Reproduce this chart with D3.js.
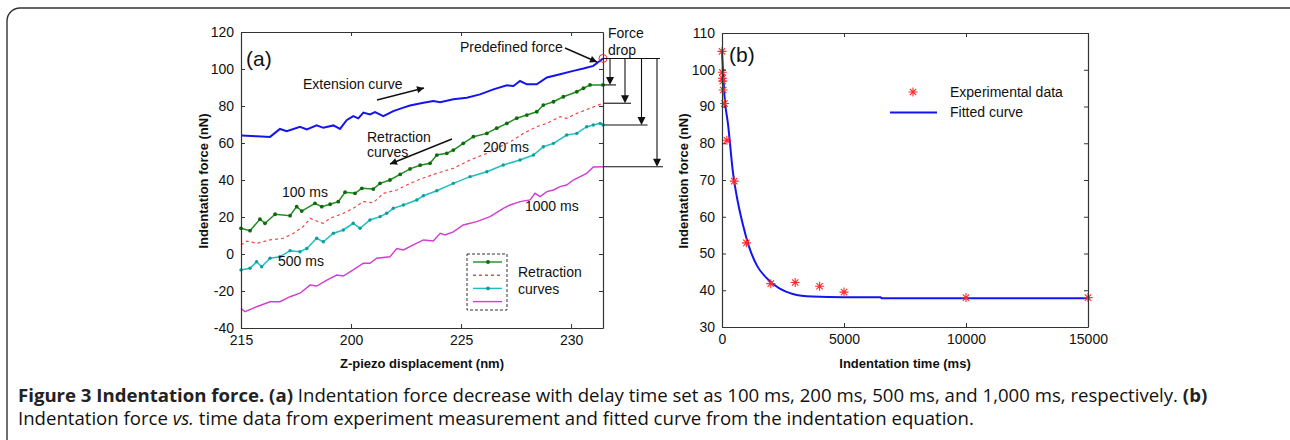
<!DOCTYPE html>
<html>
<head>
<meta charset="utf-8">
<script src="https://d3js.org/d3.v7.min.js"></script>
<style>
  body { margin: 0; background: #fff; }
  svg text { font-family: "Liberation Sans", Arial, sans-serif; fill: #111; }
</style>
</head>
<body>
<svg id="fig" width="1290" height="440"></svg>
<script>
// ---- panel (a): Z-piezo displacement (nm) vs indentation force (nN)
const extX = [215.03, 215.71, 216.32, 216.77, 217.08, 217.68, 217.99, 218.44, 218.74, 219.2, 219.5, 219.8, 220.1, 220.33, 220.56, 220.86, 221.09, 221.47, 221.92, 222.38, 222.68, 223.29, 223.74, 224.05, 224.65, 225.26, 225.86, 226.47, 227.08, 227.38, 227.68, 227.99, 228.44, 228.9, 229.5, 230.1, 230.56, 231.01, 231.45];
const extF = [64, 63.6, 63.3, 67.6, 66.4, 68.8, 67.3, 69.5, 68.2, 69.5, 67.6, 72.3, 74.5, 73.3, 76.4, 75.4, 76.7, 74.5, 77.2, 79.1, 80.3, 81.8, 82.7, 82.1, 83.6, 84.5, 86.3, 89, 91.2, 90.8, 93.5, 91.7, 91.7, 95.4, 97.2, 99, 100.3, 101.7, 105.7];

const r100X = [215, 215.41, 215.86, 216.09, 216.55, 217.23, 217.53, 217.76, 218.36, 218.67, 219.05, 219.42, 219.73, 220.18, 220.49, 221.01, 221.32, 221.77, 222.23, 222.68, 223.14, 223.59, 223.9, 224.35, 224.65, 225.1, 225.56, 226.17, 226.62, 227.08, 227.53, 227.99, 228.44, 228.74, 229.2, 229.65, 230.26, 230.56, 230.86, 231.45];
const r100F = [13.9, 12.6, 18.8, 16.6, 21.5, 20.7, 25.6, 23.2, 27.4, 25.6, 26.9, 28.3, 33.4, 32.8, 35.5, 35.1, 38.2, 40, 43, 46, 48, 49, 53.5, 54.4, 56.2, 59.8, 63.4, 65.2, 68, 70.6, 73.4, 75.1, 76.9, 80.5, 82.3, 85, 87.7, 89.6, 91.4, 91.4];

const r200X = [215, 215.26, 215.71, 216.32, 216.92, 217.38, 217.83, 218.14, 218.51, 218.74, 219.05, 219.65, 220.1, 220.56, 221.01, 221.47, 222.08, 222.53, 223.14, 223.9, 224.65, 225.41, 226.17, 226.77, 227.38, 227.83, 228.44, 228.9, 229.5, 229.8, 230.26, 230.86, 231.45];
const r200F = [4.9, 7, 5.8, 7.6, 8.5, 11.2, 14.8, 19.3, 17.5, 16.6, 19.3, 22, 24.7, 28.3, 27.7, 32.8, 34.6, 37.3, 40.5, 43.6, 46.3, 50.8, 54.4, 58, 61.6, 65.2, 68.8, 70.6, 74.2, 73.3, 76, 78.8, 81.5];

const r500X = [215, 215.41, 215.71, 215.94, 216.32, 216.77, 217.23, 217.68, 217.99, 218.44, 218.74, 219.2, 219.65, 220.1, 220.41, 220.86, 221.32, 221.62, 221.92, 222.38, 222.99, 223.29, 223.9, 224.65, 225.41, 226.17, 226.92, 227.68, 228.29, 228.74, 229.2, 229.8, 230.26, 230.71, 231.01, 231.32, 231.45];
const r500F = [-8.6, -7.7, -4.2, -6.9, -2.3, -1.5, 1.8, 1.2, 3, 8.5, 6.6, 11.2, 13, 16.6, 13.9, 18.4, 20.2, 22, 24.7, 26.5, 29.2, 31.5, 34.2, 38.2, 41.8, 44.5, 48.1, 50.8, 53.5, 58, 59.8, 64.3, 65.2, 68.8, 69.7, 70.6, 69.7];

const r1000X = [215, 215.18, 215.71, 216.32, 216.77, 217.23, 217.68, 218.14, 218.44, 218.9, 219.35, 219.65, 220.1, 220.56, 220.86, 221.17, 221.77, 222.08, 222.38, 222.83, 223.29, 223.74, 224.05, 224.27, 224.65, 225.1, 225.71, 226.32, 226.92, 227.23, 227.68, 228.14, 228.36, 228.59, 228.9, 229.2, 229.5, 229.8, 230.1, 230.71, 231.01, 231.45];
const r1000F = [-29.4, -31.2, -28.5, -25.8, -25.8, -23.1, -21.2, -16.8, -17.3, -14.1, -11.4, -11.9, -8.6, -5, -5, -2.3, -1.5, 3, 2.2, 4.9, 7.6, 7, 11.2, 10.3, 12, 15.7, 17.5, 20.2, 24.7, 26.5, 28.3, 29.2, 32.8, 31, 33.7, 34.6, 36.4, 37.3, 40, 43.6, 47, 47.2];

const aXTicks = [215, 220, 225, 230];
const aXTickLabels = ["215", "200", "225", "230"];
const aYTicks = [-40, -20, 0, 20, 40, 60, 80, 100, 120];

// ---- panel (b): indentation time (ms) vs force (nN)
const expT = [0, 10, 20, 30, 50, 100, 200, 500, 1000, 2000, 3000, 4000, 5000, 10000, 15000];
const expF = [105, 99.3, 97.7, 96.9, 94.5, 90.8, 80.8, 69.7, 52.9, 41.8, 42.1, 41.1, 39.5, 38, 38];
const fitT = [0, 100, 250, 450, 650, 850, 1100, 1450, 1800, 2350, 2900, 3700, 5000, 6500, 6550, 15000];
const fitF = [105, 93, 85, 72, 64, 58, 52, 46.5, 43.5, 40.5, 39, 38.3, 38.1, 38.1, 37.8, 37.8];
const bXTicks = [0, 5000, 10000, 15000];
const bYTicks = [30, 40, 50, 60, 70, 80, 90, 100, 110];

const svg = d3.select("#fig");
const FONT = '"Liberation Sans", Arial, sans-serif';

// frame around the figure
svg.append("rect")
  .attr("x", 7).attr("y", 8).attr("width", 1300).attr("height", 520)
  .attr("rx", 13).attr("fill", "none").attr("stroke", "#333").attr("stroke-width", 1.4);

const defs = svg.append("defs");
defs.append("marker")
  .attr("id", "arr").attr("viewBox", "0 0 10 10")
  .attr("refX", 10).attr("refY", 5)
  .attr("markerWidth", 9).attr("markerHeight", 7)
  .attr("markerUnits", "userSpaceOnUse")
  .attr("orient", "auto")
  .append("path").attr("d", "M0,0 L10,5 L0,10 z").attr("fill", "#111");

function styleAxis(g, size) {
  g.attr("font-family", FONT).attr("font-size", size || 14);
  g.select(".domain").attr("stroke", "#333").attr("stroke-width", 1.2);
  g.selectAll(".tick line").attr("stroke", "#333").attr("stroke-width", 1);
  g.selectAll(".tick text").attr("fill", "#111");
}

function boxAxes(x, y, xt, yt, xfmt) {
  const [x0, x1] = x.range(), [y0, y1] = y.range();
  const gb = svg.append("g").attr("transform", `translate(0,${y0})`)
    .call(d3.axisBottom(x).tickValues(xt).tickSizeInner(-4).tickSizeOuter(0).tickPadding(7).tickFormat(xfmt));
  styleAxis(gb);
  const gt = svg.append("g").attr("transform", `translate(0,${y1})`)
    .call(d3.axisTop(x).tickValues(xt).tickSizeInner(-4).tickSizeOuter(0).tickFormat(""));
  styleAxis(gt);
  const gl = svg.append("g").attr("transform", `translate(${x0},0)`)
    .call(d3.axisLeft(y).tickValues(yt).tickSizeInner(-4).tickSizeOuter(0).tickPadding(7).tickFormat((d) => String(d)));
  styleAxis(gl);
  const gr = svg.append("g").attr("transform", `translate(${x1},0)`)
    .call(d3.axisRight(y).tickValues(yt).tickSizeInner(-4).tickSizeOuter(0).tickFormat(""));
  styleAxis(gr);
}

function txt(x, y, s, size, opts) {
  const t = svg.append("text").attr("x", x).attr("y", y).attr("font-size", size).text(s);
  if (opts && opts.anchor) t.attr("text-anchor", opts.anchor);
  if (opts && opts.bold) t.attr("font-weight", "bold");
  return t;
}

function arrow(x1, y1, x2, y2) {
  svg.append("line").attr("x1", x1).attr("y1", y1).attr("x2", x2).attr("y2", y2)
    .attr("stroke", "#111").attr("stroke-width", 1.4).attr("marker-end", "url(#arr)");
}

// ================= panel (a)
const xa = d3.scaleLinear().domain([215, 231.45]).range([241, 603]);
const ya = d3.scaleLinear().domain([-40, 120]).range([328, 32]);

const lineA = (xs) => d3.line().x((d, i) => xa(xs[i])).y((d) => ya(d));

svg.append("path").datum(extF).attr("d", lineA(extX))
  .attr("fill", "none").attr("stroke", "#1414f0").attr("stroke-width", 2);
svg.append("path").datum(r1000F).attr("d", lineA(r1000X))
  .attr("fill", "none").attr("stroke", "#d23cd2").attr("stroke-width", 1.4);
svg.append("path").datum(r500F).attr("d", lineA(r500X))
  .attr("fill", "none").attr("stroke", "#1cc0c0").attr("stroke-width", 1.5);
svg.append("g").selectAll("circle").data(r500F).join("circle")
  .attr("cx", (d, i) => xa(r500X[i])).attr("cy", (d) => ya(d)).attr("r", 1.7).attr("fill", "#119c9c");
svg.append("path").datum(r200F).attr("d", lineA(r200X))
  .attr("fill", "none").attr("stroke", "#f04848").attr("stroke-width", 1.2).attr("stroke-dasharray", "3,3");
svg.append("path").datum(r100F).attr("d", lineA(r100X))
  .attr("fill", "none").attr("stroke", "#1f8f1f").attr("stroke-width", 1.5);
svg.append("g").selectAll("circle").data(r100F).join("circle")
  .attr("cx", (d, i) => xa(r100X[i])).attr("cy", (d) => ya(d)).attr("r", 1.9).attr("fill", "#0f6a0f");

boxAxes(xa, ya, aXTicks, aYTicks, (d, i) => aXTickLabels[i]);

// predefined force marker
const peakX = xa(extX[extX.length - 1]), peakY = ya(extF[extF.length - 1]);
svg.append("circle").attr("cx", peakX).attr("cy", peakY).attr("r", 4)
  .attr("fill", "none").attr("stroke", "#e03030").attr("stroke-width", 1);

// force drop bracket
const dropEnds = [r100F, r200F, r500F, r1000F].map((s) => s[s.length - 1]);
const dropArrowX = [610, 625, 641.5, 657];
svg.append("line").attr("x1", 603).attr("x2", 660).attr("y1", peakY).attr("y2", peakY)
  .attr("stroke", "#111").attr("stroke-width", 1.1);
dropEnds.forEach((v, i) => {
  const yy = ya(v);
  svg.append("line").attr("x1", 604).attr("x2", dropArrowX[i] + 6).attr("y1", yy).attr("y2", yy)
    .attr("stroke", "#111").attr("stroke-width", 1.1);
  svg.append("line").attr("x1", dropArrowX[i]).attr("x2", dropArrowX[i]).attr("y1", peakY).attr("y2", yy - 7)
    .attr("stroke", "#111").attr("stroke-width", 1.1);
  svg.append("path")
    .attr("d", `M${dropArrowX[i] - 4},${yy - 8} L${dropArrowX[i] + 4},${yy - 8} L${dropArrowX[i]},${yy} Z`)
    .attr("fill", "#111");
});

txt(246, 66, "(a)", 21);
txt(608, 38, "Force", 14);
txt(608, 55, "drop", 14);
txt(460, 52, "Predefined force", 14);
arrow(565, 48, 597, 62);
txt(303, 89, "Extension curve", 14);
arrow(377, 100, 424, 88);
txt(367, 142, "Retraction", 14);
txt(367, 157, "curves", 14);
arrow(452, 139, 390, 164);
txt(483, 152, "200 ms", 14);
txt(282, 197, "100 ms", 14);
txt(278, 266, "500 ms", 14);
txt(525, 211, "1000 ms", 14);

// legend (a)
svg.append("rect").attr("x", 467).attr("y", 254).attr("width", 40).attr("height", 56)
  .attr("fill", "#fff").attr("stroke", "#333").attr("stroke-width", 1).attr("stroke-dasharray", "3,2");
const legA = [
  { c: "#1f8f1f", dash: null, dot: "#0f6a0f" },
  { c: "#f04848", dash: "3,3", dot: null },
  { c: "#1cc0c0", dash: null, dot: "#119c9c" },
  { c: "#d23cd2", dash: null, dot: null },
];
legA.forEach((d, i) => {
  const yy = 262 + i * 13.2;
  const l = svg.append("line").attr("x1", 473).attr("x2", 502).attr("y1", yy).attr("y2", yy)
    .attr("stroke", d.c).attr("stroke-width", 1.4);
  if (d.dash) l.attr("stroke-dasharray", d.dash);
  if (d.dot) svg.append("circle").attr("cx", 488).attr("cy", yy).attr("r", 1.9).attr("fill", d.dot);
});
txt(518, 277, "Retraction", 14);
txt(518, 294, "curves", 14);

txt(422, 368, "Z-piezo displacement (nm)", 13, { anchor: "middle", bold: true });
txt(0, 0, "Indentation force (nN)", 13, { anchor: "middle", bold: true })
  .attr("transform", "translate(208,181) rotate(-90)");

// ================= panel (b)
const xb = d3.scaleLinear().domain([0, 15000]).range([722, 1088]);
const yb = d3.scaleLinear().domain([30, 110]).range([327, 33]);

svg.append("path").datum(fitF)
  .attr("d", d3.line().x((d, i) => xb(fitT[i])).y((d) => yb(d)).curve(d3.curveMonotoneX))
  .attr("fill", "none").attr("stroke", "#1414f0").attr("stroke-width", 2);

function star(g, cx, cy, r) {
  const p = [];
  for (let k = 0; k < 4; k++) {
    const a = (k * Math.PI) / 4;
    p.push(`M${cx - r * Math.cos(a)},${cy - r * Math.sin(a)}L${cx + r * Math.cos(a)},${cy + r * Math.sin(a)}`);
  }
  g.append("path").attr("d", p.join("")).attr("stroke", "#ff2a2a").attr("stroke-width", 1.1).attr("fill", "none");
}
const gs = svg.append("g");
expF.forEach((v, i) => star(gs, xb(expT[i]), yb(v), 4.5));

boxAxes(xb, yb, bXTicks, bYTicks, d3.format("d"));

txt(729, 62, "(b)", 21);
star(svg, 913, 92, 4.5);
txt(950, 97, "Experimental data", 14);
svg.append("line").attr("x1", 890).attr("x2", 937).attr("y1", 112.5).attr("y2", 112.5)
  .attr("stroke", "#1414f0").attr("stroke-width", 2);
txt(950, 117, "Fitted curve", 14);

txt(905, 368, "Indentation time (ms)", 13, { anchor: "middle", bold: true });
txt(0, 0, "Indentation force (nN)", 13, { anchor: "middle", bold: true })
  .attr("transform", "translate(688,181) rotate(-90)");

// ================= caption
const cap = svg.append("g").attr("font-family", '"Open Sans", sans-serif').attr("font-size", 18.6);
const l1 = cap.append("text").attr("x", 18).attr("y", 402).style("font-family", '"Open Sans", sans-serif').attr("fill", "#333");
l1.append("tspan").attr("font-weight", "bold").attr("fill", "#222").text("Figure 3 Indentation force. (a)");
l1.append("tspan").text(" Indentation force decrease with delay time set as 100 ms, 200 ms, 500 ms, and 1,000 ms, respectively. ");
l1.append("tspan").attr("font-weight", "bold").attr("fill", "#222").text("(b)");
const l2 = cap.append("text").attr("x", 18).attr("y", 425).style("font-family", '"Open Sans", sans-serif').attr("fill", "#333");
l2.append("tspan").text("Indentation force ");
l2.append("tspan").attr("font-style", "italic").text("vs.");
l2.append("tspan").text(" time data from experiment measurement and fitted curve from the indentation equation.");
</script>
</body>
</html>
